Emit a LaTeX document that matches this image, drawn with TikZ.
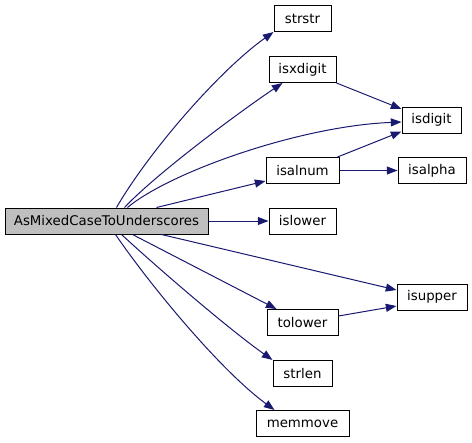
\documentclass[tikz,border=0pt]{standalone}
\usepackage{fontspec}
\setmainfont{DejaVu Sans}
\usetikzlibrary{arrows.meta,calc}
\definecolor{edgeblue}{HTML}{191970}
\definecolor{maingray}{HTML}{BFBFBF}
\begin{document}
\begin{tikzpicture}[x=0.75pt,y=-0.75pt,
  fn/.style={draw=black,line width=0.75pt,rectangle,inner sep=0pt,minimum height=19.5pt,font=\fontsize{10}{12}\selectfont},
  call/.style={draw=edgeblue,line width=0.75pt,-{Triangle[length=8pt,width=6pt]}}]
\useasboundingbox (0,0) rectangle (472,443);
\node[fn,fill=maingray,minimum width=152.25pt] (main) at (106.5,221) {AsMixedCaseToUnderscores};
\node[fn,minimum width=42.75pt] (strstr) at (302.5,18.5) {strstr};
\node[fn,minimum width=50.25pt] (isxdigit) at (302.5,69.5) {isxdigit};
\node[fn,minimum width=44.25pt] (isdigit) at (431.5,120) {isdigit};
\node[fn,minimum width=54.75pt] (isalnum) at (302.5,170.5) {isalnum};
\node[fn,minimum width=51pt] (isalpha) at (432,170.5) {isalpha};
\node[fn,minimum width=50.25pt] (islower) at (302.5,221) {islower};
\node[fn,minimum width=52.5pt] (isupper) at (432,297) {isupper};
\node[fn,minimum width=53.25pt] (tolower) at (302.5,322.5) {tolower};
\node[fn,minimum width=44.25pt] (strlen) at (302.5,373.5) {strlen};
\node[fn,minimum width=69.75pt] (memmove) at (302.5,423.5) {memmove};

\draw[call] ($(main.north west)+(112,0)$) .. controls (150,150) and (220,70) .. (strstr.south west);
\draw[call] ($(main.north west)+(120,0)$) .. controls (155,175) and (235,115) .. ($(isxdigit.south west)+(14,0)$);
\draw[call] ($(main.north west)+(123,0)$) .. controls (170,172) and (300,126) .. ($(isdigit.west)+(0,2)$);
\draw[call] ($(main.north west)+(152,0)$) -- ($(isalnum.south west)+(0,-3)$);
\draw[call] (main.east) -- (islower.west);
\draw[call] ($(main.south west)+(157,0)$) -- ($(isupper.west)+(0,-7)$);
\draw[call] ($(main.south west)+(128,0)$) -- ($(tolower.north west)+(10,0)$);
\draw[call] ($(main.south west)+(117,0)$) .. controls (160,270) and (230,330) .. (strlen.north west);
\draw[call] ($(main.south west)+(111,0)$) .. controls (150,285) and (220,370) .. ($(memmove.north west)+(19,0)$);
\draw[call] (isxdigit.south east) -- ($(isdigit.west)+(0,-11)$);
\draw[call] ($(isalnum.north east)+(-2,0)$) -- ($(isdigit.south west)+(0,-2)$);
\draw[call] (isalnum.east) -- (isalpha.west);
\draw[call] ($(tolower.east)+(0,-6.5)$) -- ($(isupper.west)+(0,9)$);
\end{tikzpicture}
\end{document}
